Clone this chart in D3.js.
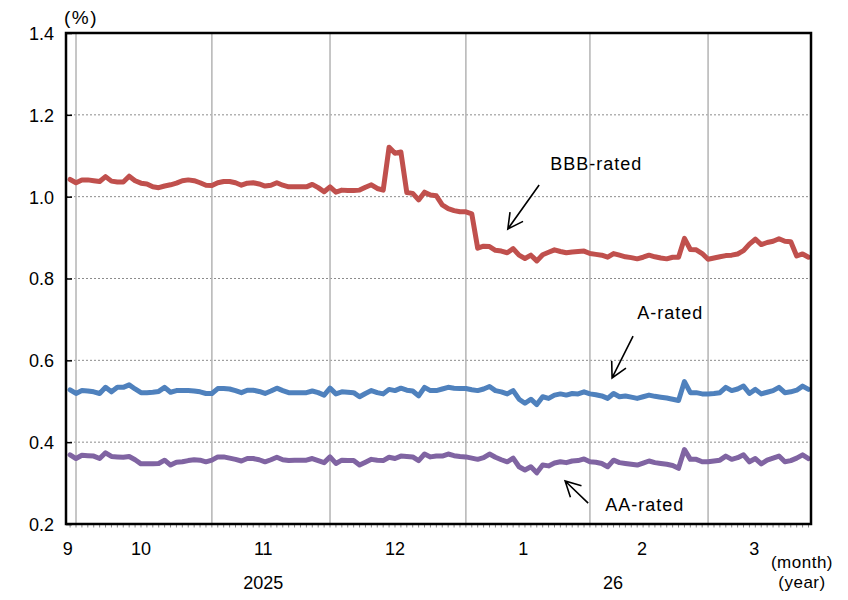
<!DOCTYPE html>
<html><head><meta charset="utf-8">
<script src="https://cdn.jsdelivr.net/npm/d3@7"></script>
<style>
html,body{margin:0;padding:0;background:#fff;}
svg text{font-family:"Liberation Sans",Arial,sans-serif;fill:#000;}
</style></head>
<body><svg id="c" width="848" height="600"></svg>
<script>
// Weekday index: 0 = 30 Sep 2025 ... 125 = late Mar 2026
const bbb = [1.042,1.034,1.041,1.041,1.039,1.037,1.049,1.038,1.036,1.036,
1.050,1.039,1.033,1.031,1.024,1.022,1.026,1.029,1.033,1.039,
1.041,1.039,1.034,1.028,1.027,1.034,1.037,1.037,1.034,1.028,
1.033,1.034,1.031,1.026,1.028,1.034,1.028,1.024,1.024,1.024,
1.024,1.030,1.022,1.012,1.024,1.011,1.016,1.015,1.015,1.016,
1.023,1.029,1.020,1.016,1.121,1.106,1.109,1.010,1.008,0.992,
1.011,1.004,1.002,0.980,0.971,0.966,0.963,0.963,0.958,0.874,
0.879,0.878,0.869,0.867,0.863,0.873,0.857,0.849,0.857,0.843,
0.858,0.864,0.870,0.866,0.863,0.865,0.866,0.867,0.861,0.859,
0.857,0.852,0.861,0.857,0.853,0.851,0.848,0.852,0.857,0.853,
0.850,0.848,0.852,0.852,0.898,0.871,0.870,0.861,0.847,0.850,
0.853,0.856,0.857,0.860,0.868,0.884,0.896,0.883,0.888,0.891,
0.897,0.891,0.890,0.855,0.860,0.852];
const aRated = [0.528,0.519,0.526,0.525,0.523,0.519,0.534,0.523,0.534,0.534,
0.540,0.530,0.521,0.521,0.522,0.524,0.534,0.522,0.526,0.526,
0.526,0.525,0.523,0.519,0.519,0.531,0.531,0.530,0.526,0.521,
0.527,0.527,0.524,0.519,0.525,0.532,0.526,0.521,0.521,0.521,
0.521,0.525,0.521,0.515,0.532,0.518,0.523,0.522,0.521,0.511,
0.519,0.526,0.521,0.518,0.529,0.526,0.532,0.527,0.525,0.513,
0.534,0.526,0.526,0.530,0.534,0.532,0.531,0.531,0.528,0.526,
0.530,0.536,0.526,0.523,0.518,0.526,0.505,0.495,0.505,0.492,
0.511,0.507,0.515,0.518,0.515,0.519,0.518,0.523,0.518,0.516,
0.513,0.507,0.519,0.511,0.513,0.510,0.507,0.511,0.515,0.512,
0.510,0.508,0.505,0.502,0.548,0.521,0.521,0.518,0.518,0.519,
0.521,0.534,0.526,0.530,0.537,0.519,0.529,0.518,0.522,0.526,
0.534,0.521,0.523,0.527,0.537,0.529];
const aaRated = [0.369,0.360,0.368,0.367,0.366,0.360,0.374,0.365,0.364,0.363,
0.365,0.357,0.347,0.347,0.347,0.348,0.356,0.344,0.351,0.352,
0.355,0.357,0.356,0.352,0.356,0.364,0.364,0.361,0.358,0.354,
0.360,0.360,0.357,0.352,0.357,0.363,0.357,0.355,0.356,0.356,
0.356,0.360,0.355,0.350,0.364,0.348,0.356,0.355,0.355,0.344,
0.351,0.358,0.356,0.355,0.363,0.360,0.366,0.365,0.364,0.355,
0.371,0.364,0.366,0.366,0.371,0.367,0.365,0.364,0.361,0.358,
0.362,0.371,0.363,0.357,0.352,0.361,0.340,0.332,0.340,0.325,
0.344,0.342,0.349,0.352,0.350,0.354,0.355,0.359,0.352,0.351,
0.348,0.340,0.356,0.350,0.348,0.346,0.344,0.349,0.354,0.350,
0.348,0.346,0.343,0.336,0.382,0.358,0.358,0.352,0.352,0.354,
0.356,0.366,0.358,0.362,0.369,0.352,0.360,0.347,0.356,0.361,
0.366,0.352,0.355,0.361,0.369,0.360];

const yTicks = [0.2,0.4,0.6,0.8,1.0,1.2,1.4];
const monthStartIdx = [1,24,44,67,88,108];           // first weekday of Oct..Mar
const monthLabels = ["9","10","11","12","1","2","3"];
const monthLabelIdx = [-0.4,12,32.7,55,76.7,96.8,115.8];
const yearLabels = ["2025","26"];
const yearLabelIdx = [32.7,91.9];

const seriesNames = ["BBB-rated","A-rated","AA-rated"];
const seriesData = [bbb, aRated, aaRated];
const seriesColors = ["#c0504d","#4f81bd","#8064a2"];
// annotation: text anchor (idx,val), arrow tail (idx,val), arrow tip (idx,val)
const annText = [[81.3,1.065],[96.0,0.701],[90.6,0.232]];
const annTail = [[79.4,1.0285],[95.3,0.659],[87.7,0.251]];
const annTip  = [[74.1,0.921],[91.75,0.557],[83.8,0.305]];

const svg = d3.select("#c");
const L=66, R=811, T=33, B=524;
const x = d3.scaleLinear().domain([0,125]).range([70.1,808.5]);
const y = d3.scaleLinear().domain([0.2,1.4]).range([B,T]);

// horizontal dashed gridlines
svg.append("g").selectAll("line").data(yTicks.filter(v=>v>0.2 && v<1.4)).join("line")
  .attr("x1",L).attr("x2",R).attr("y1",d=>y(d)).attr("y2",d=>y(d))
  .attr("stroke","#8c8c8c").attr("stroke-width",1).attr("stroke-dasharray","2,2");
// vertical month gridlines
svg.append("g").selectAll("line").data(monthStartIdx).join("line")
  .attr("x1",d=>x(d)).attr("x2",d=>x(d)).attr("y1",T).attr("y2",B)
  .attr("stroke","#b4b4b4").attr("stroke-width",1.5);

// series lines
const line = d3.line().x((d,i)=>x(i)).y(d=>y(d));
svg.append("g").selectAll("path").data(seriesData).join("path")
  .attr("d",line).attr("fill","none")
  .attr("stroke",(d,i)=>seriesColors[i]).attr("stroke-width",5)
  .attr("stroke-linejoin","round").attr("stroke-linecap","round");

// small ticks along bottom axis (one per day)
svg.append("g").selectAll("line").data(d3.range(0,126)).join("line")
  .attr("x1",d=>x(d)).attr("x2",d=>x(d)).attr("y1",B).attr("y2",B+3.5)
  .attr("stroke","#888").attr("stroke-width",1);

// frame
svg.append("rect").attr("x",L).attr("y",T).attr("width",R-L).attr("height",B-T)
  .attr("fill","none").attr("stroke","#000").attr("stroke-width",2.5);

// y axis ticks and labels
const yAxis = d3.axisLeft(y).tickValues(yTicks).tickSize(-6).tickPadding(12)
  .tickFormat(d3.format(".1f"));
const ya = svg.append("g").attr("transform",`translate(${L},0)`).call(yAxis);
ya.select(".domain").remove();
ya.selectAll(".tick line").attr("stroke","#000").attr("stroke-width",1.5);
ya.selectAll(".tick text").attr("font-size",18).attr("dy","0.36em")
  .style("font-family","'Liberation Sans',Arial,sans-serif").attr("fill","#000");
svg.append("text").attr("x",81).attr("y",24).attr("text-anchor","middle")
  .attr("font-size",19).attr("letter-spacing",1.5).text("(%)");

// month labels
svg.append("g").selectAll("text").data(monthLabels).join("text")
  .attr("x",(d,i)=>x(monthLabelIdx[i])).attr("y",555).attr("text-anchor","middle")
  .attr("font-size",18).text(d=>d);
svg.append("g").selectAll("text").data(yearLabels).join("text")
  .attr("x",(d,i)=>x(yearLabelIdx[i])).attr("y",589).attr("text-anchor","middle")
  .attr("font-size",18).text(d=>d);
svg.append("text").attr("x",802).attr("y",568).attr("text-anchor","middle")
  .attr("font-size",17).attr("letter-spacing",0.5).text("(month)");
svg.append("text").attr("x",802).attr("y",588).attr("text-anchor","middle")
  .attr("font-size",17).attr("letter-spacing",0.5).text("(year)");

// annotations
seriesNames.forEach((name,i)=>{
  svg.append("text").attr("x",x(annText[i][0])).attr("y",y(annText[i][1]))
    .attr("font-size",18).attr("letter-spacing",1).text(name);
  const tx=x(annTail[i][0]), ty=y(annTail[i][1]);
  const hx=x(annTip[i][0]), hy=y(annTip[i][1]);
  const ang=Math.atan2(ty-hy,tx-hx), len=17, spread=28*Math.PI/180;
  const p=d3.path();
  p.moveTo(tx,ty); p.lineTo(hx,hy);
  p.moveTo(hx+len*Math.cos(ang+spread),hy+len*Math.sin(ang+spread));
  p.lineTo(hx,hy);
  p.lineTo(hx+len*Math.cos(ang-spread),hy+len*Math.sin(ang-spread));
  svg.append("path").attr("d",p.toString()).attr("fill","none")
    .attr("stroke","#000").attr("stroke-width",1.6);
});
</script></body></html>
